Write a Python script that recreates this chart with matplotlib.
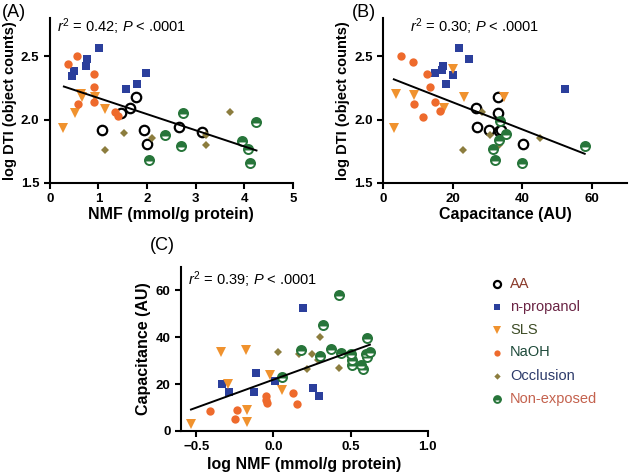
import numpy as np
import matplotlib
matplotlib.use("Agg")
import matplotlib.pyplot as plt
from matplotlib.lines import Line2D

plt.rcParams['font.family'] = ['Liberation Sans', 'DejaVu Sans']
plt.rcParams['mathtext.fontset'] = 'custom'
plt.rcParams['mathtext.rm'] = 'Liberation Sans'
plt.rcParams['mathtext.it'] = 'Liberation Sans:italic'

groups = ["AA", "n-propanol", "SLS", "NaOH", "Occlusion", "Non-exposed"]

# panel A: NMF vs log DTI
a_aa_x = [1.08, 1.47, 1.65, 1.77, 1.93, 2.0, 2.65, 3.13]
a_aa_y = [1.915, 2.05, 2.09, 2.18, 1.915, 1.81, 1.94, 1.905]
a_np_x = [0.45, 0.5, 0.74, 0.77, 1.01, 1.56, 1.80, 1.98]
a_np_y = [2.34, 2.38, 2.42, 2.48, 2.56, 2.24, 2.28, 2.37]
a_sls_x = [0.27, 0.51, 0.64, 0.67, 0.94, 1.14]
a_sls_y = [1.93, 2.05, 2.2, 2.18, 2.18, 2.085]
a_naoh_x = [0.38, 0.55, 0.58, 0.9, 0.91, 0.9, 1.34, 1.41]
a_naoh_y = [2.44, 2.5, 2.12, 2.355, 2.26, 2.14, 2.06, 2.03]
a_occ_x = [1.13, 1.52, 2.1, 3.22, 3.21, 3.7]
a_occ_y = [1.76, 1.895, 1.855, 1.875, 1.8, 2.06]
a_ne_x = [2.04, 2.37, 2.69, 2.74, 3.96, 4.08, 4.12, 4.24]
a_ne_y = [1.68, 1.88, 1.79, 2.05, 1.83, 1.77, 1.66, 1.98]
a_fit_x = [0.29, 4.25]
a_fit_y = [2.26, 1.756]

# panel B: capacitance vs log DTI
b_aa_x = [26.6, 26.9, 30.4, 32.9, 33.1, 33.4, 33.9, 40.3]
b_aa_y = [2.087, 1.94, 1.918, 2.18, 2.05, 1.91, 1.92, 1.81]
b_np_x = [14.9, 16.8, 17.2, 18.0, 20.1, 21.7, 24.6, 52.3]
b_np_y = [2.365, 2.39, 2.42, 2.28, 2.35, 2.56, 2.48, 2.24]
b_sls_x = [3.1, 3.8, 8.8, 17.6, 20.2, 23.2, 34.7]
b_sls_y = [1.93, 2.2, 2.19, 2.09, 2.4, 2.18, 2.177]
b_naoh_x = [5.2, 8.6, 8.9, 11.5, 12.5, 13.4, 14.8, 16.3]
b_naoh_y = [2.5, 2.45, 2.125, 2.02, 2.36, 2.26, 2.14, 2.065]
b_occ_x = [23.1, 28.4, 30.6, 33.2, 45.0]
b_occ_y = [1.76, 2.06, 1.875, 1.80, 1.855]
b_ne_x = [31.5, 32.1, 33.2, 33.5, 35.4, 39.9, 57.9]
b_ne_y = [1.77, 1.68, 1.84, 1.985, 1.883, 1.66, 1.795]
b_fit_x = [3.1, 57.9]
b_fit_y = [2.317, 1.73]

# panel C: log NMF vs capacitance
c_np_x = [-0.336, -0.289, -0.127, -0.112, 0.011, 0.19, 0.254, 0.297]
c_np_y = [19.8, 16.5, 16.7, 24.5, 21.2, 52.3, 18.1, 14.8]
c_sls_x = [-0.534, -0.338, -0.295, -0.179, -0.170, -0.168, -0.024, 0.054]
c_sls_y = [3.1, 33.7, 20.2, 34.7, 8.7, 3.7, 23.7, 17.4]
c_naoh_x = [-0.414, -0.252, -0.233, -0.046, -0.046, -0.041, 0.127, 0.151]
c_naoh_y = [8.3, 5.2, 8.7, 14.8, 13.0, 12.1, 16.2, 11.3]
c_occ_x = [0.032, 0.168, 0.25, 0.30, 0.218, 0.287, 0.422]
c_occ_y = [33.7, 33.0, 33.0, 39.9, 26.5, 30.4, 26.7]
c_ne_x = [0.054, 0.18, 0.319, 0.304, 0.373, 0.427, 0.435, 0.502, 0.508,
          0.508, 0.565, 0.582, 0.607, 0.599, 0.625, 0.607]
c_ne_y = [23.1, 34.4, 45.0, 31.8, 35.1, 58.0, 33.3, 33.0, 30.4,
          27.9, 27.9, 26.3, 39.8, 33.0, 33.5, 31.4]
c_fit_x = [-0.534, 0.625]
c_fit_y = [9.1, 36.8]

blue = '#2b3f9c'
orange_t = '#f0922e'
orange_c = '#ee6a2c'
olive = '#8c7d3e'
green = '#27753a'

styles = {
    "AA": dict(marker='o', markersize=6.8, markerfacecolor='white',
               markeredgecolor='black', markeredgewidth=1.6),
    "n-propanol": dict(marker='s', markersize=6.3, markerfacecolor=blue,
                       markeredgecolor=blue, markeredgewidth=0),
    "SLS": dict(marker='v', markersize=6.8, markerfacecolor=orange_t,
                markeredgecolor=orange_t, markeredgewidth=0),
    "NaOH": dict(marker='o', markersize=6, markerfacecolor=orange_c,
                 markeredgecolor=orange_c, markeredgewidth=0),
    "Occlusion": dict(marker='D', markersize=4.3, markerfacecolor=olive,
                      markeredgecolor=olive, markeredgewidth=0),
    "Non-exposed": dict(marker='o', markersize=6.5, fillstyle='top',
                        markerfacecolor=green, markerfacecoloralt='white',
                        markeredgecolor=green, markeredgewidth=1.4),
}
label_colors = ['#8a3a2a', '#6a2444', '#3d4c26', '#1e4a3a', '#2c3a6a', '#c4624e']


def style_axes(ax):
    for s in ['top', 'right']:
        ax.spines[s].set_visible(False)
    for s in ['left', 'bottom']:
        ax.spines[s].set_linewidth(1.5)
    ax.tick_params(direction='out', length=4, width=1.5, labelsize=9.5)
    for lab in ax.get_xticklabels() + ax.get_yticklabels():
        lab.set_fontweight('bold')


def scatter(ax, name, x, y):
    ax.plot(x, y, linestyle='none', **styles[name])


fig = plt.figure(figsize=(6.3, 4.74), dpi=100)

axA = fig.add_axes([0.079, 0.614, 0.386, 0.348])
scatter(axA, "AA", a_aa_x, a_aa_y)
scatter(axA, "n-propanol", a_np_x, a_np_y)
scatter(axA, "SLS", a_sls_x, a_sls_y)
scatter(axA, "NaOH", a_naoh_x, a_naoh_y)
scatter(axA, "Occlusion", a_occ_x, a_occ_y)
scatter(axA, "Non-exposed", a_ne_x, a_ne_y)
axA.plot(a_fit_x, a_fit_y, color='black', linewidth=1.4)
axA.set_xlim(0, 5)
axA.set_ylim(1.5, 2.8)
axA.set_xticks([0, 1, 2, 3, 4, 5])
axA.set_yticks([1.5, 2.0, 2.5])
axA.set_yticklabels(['1.5', '2.0', '2.5'])
axA.set_xlabel('NMF (mmol/g protein)', fontsize=11.5, fontweight='bold', labelpad=1)
axA.set_ylabel('log DTI (object counts)', fontsize=10.5, fontweight='bold', labelpad=3)
axA.text(0.03, 0.95, r'$\it{r}^2$ = 0.42; $\it{P}$ < .0001', transform=axA.transAxes,
         fontsize=10.5, va='center')
style_axes(axA)

axB = fig.add_axes([0.608, 0.614, 0.387, 0.348])
scatter(axB, "AA", b_aa_x, b_aa_y)
scatter(axB, "n-propanol", b_np_x, b_np_y)
scatter(axB, "SLS", b_sls_x, b_sls_y)
scatter(axB, "NaOH", b_naoh_x, b_naoh_y)
scatter(axB, "Occlusion", b_occ_x, b_occ_y)
scatter(axB, "Non-exposed", b_ne_x, b_ne_y)
axB.plot(b_fit_x, b_fit_y, color='black', linewidth=1.4)
axB.set_xlim(0, 70)
axB.set_ylim(1.5, 2.8)
axB.set_xticks([0, 20, 40, 60])
axB.set_yticks([1.5, 2.0, 2.5])
axB.set_yticklabels(['1.5', '2.0', '2.5'])
axB.set_xlabel('Capacitance (AU)', fontsize=11.5, fontweight='bold', labelpad=1)
axB.set_ylabel('log DTI (object counts)', fontsize=10.5, fontweight='bold', labelpad=3)
axB.text(0.11, 0.95, r'$\it{r}^2$ = 0.30; $\it{P}$ < .0001', transform=axB.transAxes,
         fontsize=10.5, va='center')
style_axes(axB)

axC = fig.add_axes([0.287, 0.091, 0.392, 0.346])
scatter(axC, "n-propanol", c_np_x, c_np_y)
scatter(axC, "SLS", c_sls_x, c_sls_y)
scatter(axC, "NaOH", c_naoh_x, c_naoh_y)
scatter(axC, "Occlusion", c_occ_x, c_occ_y)
scatter(axC, "Non-exposed", c_ne_x, c_ne_y)
axC.plot(c_fit_x, c_fit_y, color='black', linewidth=1.4)
axC.set_xlim(-0.6, 1.0)
axC.set_ylim(0, 70)
axC.set_xticks([-0.5, 0.0, 0.5, 1.0])
axC.set_xticklabels(['\u22120.5', '0.0', '0.5', '1.0'])
axC.set_yticks([0, 20, 40, 60])
axC.set_xlabel('log NMF (mmol/g protein)', fontsize=11.5, fontweight='bold', labelpad=3)
axC.set_ylabel('Capacitance (AU)', fontsize=11.5, fontweight='bold', labelpad=3)
axC.text(0.03, 0.92, r'$\it{r}^2$ = 0.39; $\it{P}$ < .0001', transform=axC.transAxes,
         fontsize=10.5, va='center')
style_axes(axC)

fig.text(0.003, 0.974, '(A)', fontsize=13, va='center')
fig.text(0.559, 0.974, '(B)', fontsize=13, va='center')
fig.text(0.238, 0.483, '(C)', fontsize=13, va='center')

# legend drawn by hand
leg_y = [284, 306.5, 330, 352.5, 376, 399]
for name, yy, col in zip(groups, leg_y, label_colors):
    st = dict(styles[name])
    st['markersize'] = st['markersize'] * 0.75
    fy = 1 - yy / 474
    fig.add_artist(Line2D([497 / 630], [fy], transform=fig.transFigure,
                          linestyle='none', **st))
    fig.text(510 / 630, fy, name, color=col, fontsize=10.5, va='center')

fig.savefig('out.png', dpi=100)
